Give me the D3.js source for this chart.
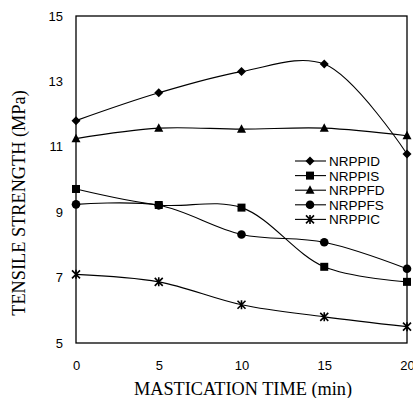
<!DOCTYPE html>
<html>
<head>
<meta charset="utf-8">
<script src="https://cdn.jsdelivr.net/npm/d3@7"></script>
<style>
  body { margin: 0; background: #fff; }
  .tick-label { font-family: "Liberation Sans", Arial, sans-serif; font-size: 13px; fill: #000; }
  .axis-title { font-family: "Liberation Serif", "Times New Roman", serif; font-size: 18.3px; fill: #000; }
  .legend-label { font-family: "Liberation Sans", Arial, sans-serif; font-size: 13.5px; fill: #000; }
</style>
</head>
<body>
<div id="chart"></div>
<script>
let times = [0, 5, 10, 15, 20];
let seriesNames = ["NRPPID", "NRPPIS", "NRPPFD", "NRPPFS", "NRPPIC"];
let markers = ["diamond", "square", "triangle", "circle", "star"];
let nrppid = [11.8, 12.65, 13.3, 13.53, 10.78];
let nrppis = [9.71, 9.22, 9.14, 7.33, 6.87];
let nrppfd = [11.25, 11.57, 11.54, 11.57, 11.34];
let nrppfs = [9.24, 9.21, 8.32, 8.08, 7.27];
let nrppic = [7.1, 6.87, 6.17, 5.8, 5.5];
let yTicks = [5, 7, 9, 11, 13, 15];
let xTicks = [0, 5, 10, 15, 20];

const allSeries = [nrppid, nrppis, nrppfd, nrppfs, nrppic];

const width = 413;
const height = 398;
const plotLeft = 76, plotRight = 407, plotTop = 16, plotBottom = 343;

const svg = d3
  .select("#chart")
  .append("svg")
  .attr("width", width)
  .attr("height", height);

const x = d3.scaleLinear().domain([0, 20]).range([plotLeft, plotRight]);
const y = d3.scaleLinear().domain([5, 15]).range([plotBottom, plotTop]);

// plot frame
svg
  .append("rect")
  .attr("x", plotLeft)
  .attr("y", plotTop)
  .attr("width", plotRight - plotLeft)
  .attr("height", plotBottom - plotTop)
  .attr("fill", "none")
  .attr("stroke", "#000")
  .attr("stroke-width", 1.3);

// axes, labels only (no tick marks in the original)
const yAxis = svg
  .append("g")
  .attr("transform", `translate(${plotLeft},0)`)
  .call(d3.axisLeft(y).tickValues(yTicks).tickSize(0).tickPadding(13));
yAxis.select(".domain").remove();
yAxis.selectAll("text").attr("class", "tick-label");
yAxis.attr("font-family", null).attr("font-size", null);

const xAxis = svg
  .append("g")
  .attr("transform", `translate(0,${plotBottom})`)
  .call(d3.axisBottom(x).tickValues(xTicks).tickSize(0).tickPadding(17.5));
xAxis.select(".domain").remove();
xAxis.selectAll("text").attr("class", "tick-label");
xAxis.attr("font-family", null).attr("font-size", null);

svg
  .append("text")
  .attr("class", "axis-title")
  .attr("text-anchor", "middle")
  .attr("x", 243)
  .attr("y", 395)
  .text("MASTICATION TIME (min)");

svg
  .append("text")
  .attr("class", "axis-title")
  .attr("text-anchor", "middle")
  .attr("transform", "translate(25,203) rotate(-90)")
  .text("TENSILE STRENGTH (MPa)");

function drawMarker(g, type, cx, cy) {
  if (type === "diamond") {
    g.append("path")
      .attr("d", `M${cx},${cy - 4.5}L${cx + 4.5},${cy}L${cx},${cy + 4.5}L${cx - 4.5},${cy}Z`)
      .attr("fill", "#000");
  } else if (type === "square") {
    g.append("rect")
      .attr("x", cx - 4).attr("y", cy - 4)
      .attr("width", 8).attr("height", 8)
      .attr("fill", "#000");
  } else if (type === "triangle") {
    g.append("path")
      .attr("d", `M${cx},${cy - 5}L${cx + 4.5},${cy + 3.5}L${cx - 4.5},${cy + 3.5}Z`)
      .attr("fill", "#000");
  } else if (type === "circle") {
    g.append("circle")
      .attr("cx", cx).attr("cy", cy).attr("r", 4.3)
      .attr("fill", "#000");
  } else {
    // star: an X with a vertical bar
    g.append("path")
      .attr("d", `M${cx - 4},${cy - 4}L${cx + 4},${cy + 4}M${cx + 4},${cy - 4}L${cx - 4},${cy + 4}M${cx},${cy - 4.5}L${cx},${cy + 4.5}`)
      .attr("stroke", "#000")
      .attr("stroke-width", 1.6)
      .attr("fill", "none");
  }
}

const line = d3
  .line()
  .x((d, i) => x(times[i]))
  .y((d) => y(d))
  .curve(d3.curveCatmullRom.alpha(0.5));

allSeries.forEach((values, s) => {
  const g = svg.append("g");
  g.append("path")
    .attr("d", line(values))
    .attr("fill", "none")
    .attr("stroke", "#000")
    .attr("stroke-width", 1.1);
  values.forEach((v, i) => drawMarker(g, markers[s], x(times[i]), y(v)));
});

// legend
const legend = svg.append("g");
seriesNames.forEach((name, i) => {
  const ly = 161 + i * 14.6;
  legend
    .append("line")
    .attr("x1", 295).attr("x2", 326)
    .attr("y1", ly).attr("y2", ly)
    .attr("stroke", "#000")
    .attr("stroke-width", 1.1);
  drawMarker(legend, markers[i], 310, ly);
  legend
    .append("text")
    .attr("class", "legend-label")
    .attr("x", 329)
    .attr("y", ly + 5)
    .text(name);
});
</script>
</body>
</html>
